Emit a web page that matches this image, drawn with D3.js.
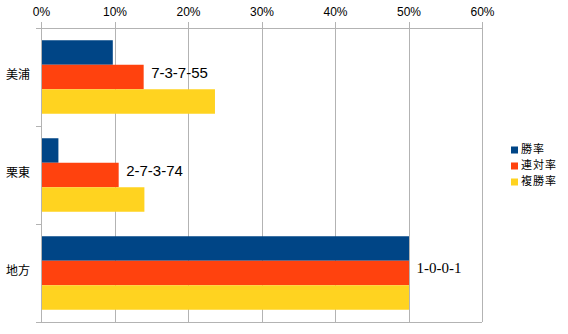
<!DOCTYPE html>
<html><head><meta charset="utf-8">
<script src="https://cdn.jsdelivr.net/npm/d3@7"></script>
<style>body{margin:0;background:#fff}svg{display:block}</style>
</head><body>
<svg id="c" width="568" height="334"></svg>
<script>
const categories = ["美浦", "栗東", "地方"];
const seriesNames = ["勝率", "連対率", "複勝率"];
const winRate = [0.097, 0.023, 0.50];
const placeRate = [0.139, 0.105, 0.50];
const showRate = [0.236, 0.140, 0.50];
const records = ["7-3-7-55", "2-7-3-74", "1-0-0-1"];
const xTicks = [0, 0.1, 0.2, 0.3, 0.4, 0.5, 0.6];
const colors = ["#004586", "#ff420e", "#ffd320"];

const seriesValues = [winRate, placeRate, showRate];
const svg = d3.select("#c");
const L = 41, R = 482, T = 28, B = 322;
const x = d3.scaleLinear().domain([0, 0.6]).range([L, R]);
const y = d3.scaleBand().domain(categories).range([T, B]).paddingInner(0).paddingOuter(0);
const inner = d3.scaleBand().domain(seriesNames).range([0, y.bandwidth()]).paddingInner(0).paddingOuter(0.5);
const grid = "#b3b3b3";

// gridlines
svg.append("g").selectAll("line").data(xTicks).join("line")
  .attr("x1", d => Math.round(x(d)) + 0.5).attr("x2", d => Math.round(x(d)) + 0.5)
  .attr("y1", T - 6).attr("y2", B).attr("stroke", grid);
// top and bottom frame lines
svg.append("line").attr("x1", L - 5).attr("x2", R).attr("y1", T + 0.5).attr("y2", T + 0.5).attr("stroke", grid);
svg.append("line").attr("x1", L - 5).attr("x2", R).attr("y1", B + 0.5).attr("y2", B + 0.5).attr("stroke", grid);
// left ticks at band boundaries
const bounds = categories.map(c => y(c)).concat([B]);
svg.append("g").selectAll("line").data(bounds).join("line")
  .attr("x1", L - 5).attr("x2", L).attr("y1", d => Math.round(d) + 0.5).attr("y2", d => Math.round(d) + 0.5).attr("stroke", grid);

// top axis labels
const ax = d3.axisTop(x).tickValues(xTicks).tickFormat(d3.format(".0%")).tickSize(0).tickPadding(0);
const axG = svg.append("g").attr("transform", `translate(0,${T - 12})`).call(ax);
axG.select(".domain").remove();
axG.selectAll("text").attr("font-family", "Liberation Sans, Arial, sans-serif").attr("font-size", 12).attr("fill", "#000").attr("dy", "0");

// bars
seriesNames.forEach((s, si) => {
  svg.append("g").selectAll("rect").data(categories).join("rect")
    .attr("x", x(0) + 0.5)
    .attr("y", c => y(c) + inner(s))
    .attr("width", (c, i) => x(seriesValues[si][i]) - x(0))
    .attr("height", inner.bandwidth())
    .attr("fill", colors[si]);
});

// left axis line
svg.append("line").attr("x1", L + 0.5).attr("x2", L + 0.5).attr("y1", T).attr("y2", B).attr("stroke", grid);

// category labels
svg.append("g").selectAll("text").data(categories).join("text")
  .attr("x", 30).attr("y", c => y(c) + y.bandwidth() / 2 - 1)
  .attr("text-anchor", "end").attr("dominant-baseline", "middle")
  .attr("font-family", "Noto Sans CJK JP, sans-serif").attr("font-size", 12).attr("fill", "#000")
  .text(c => c);

// record labels
svg.append("g").selectAll("text").data(categories).join("text")
  .attr("x", (c, i) => x(placeRate[i]) + 8)
  .attr("y", c => y(c) + inner(seriesNames[1]) + inner.bandwidth() / 2 - 3)
  .attr("dominant-baseline", "middle")
  .attr("font-family", (c, i) => i === 2 ? "Liberation Serif, serif" : "Liberation Sans Narrow, Arial Narrow, sans-serif")
  .attr("font-size", 15).attr("fill", "#000")
  .text((c, i) => records[i]);

// legend
const lg = svg.append("g").attr("transform", "translate(511,150)");
seriesNames.forEach((s, i) => {
  lg.append("rect").attr("x", 0).attr("y", i * 16 - 3.5).attr("width", 7).attr("height", 7).attr("fill", colors[i]);
  lg.append("text").attr("x", 10).attr("y", i * 16).attr("dominant-baseline", "middle")
    .attr("font-family", "Noto Sans CJK JP, sans-serif").attr("font-size", 11).attr("letter-spacing", 1).attr("fill", "#000").text(s);
});
</script>
</body></html>
